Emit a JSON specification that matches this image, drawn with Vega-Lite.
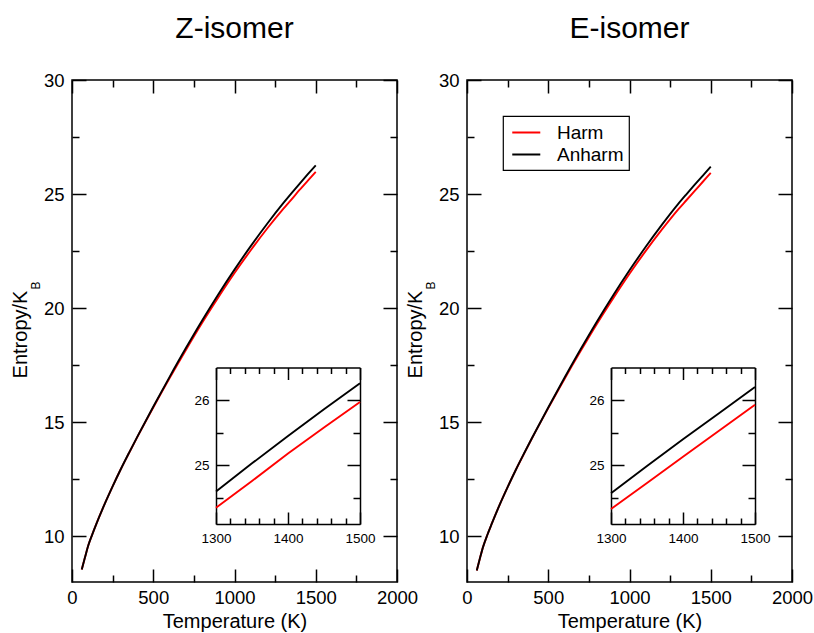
{
  "$schema": "https://vega.github.io/schema/vega-lite/v6.json",
  "padding": {"left": 9, "top": 13, "right": 0, "bottom": 0},
  "datasets": {
    "z": [
      {"series":"Harm","T":60,"S":8.55},{"series":"Harm","T":80,"S":9.08},{"series":"Harm","T":100,"S":9.6},{"series":"Harm","T":125,"S":10.09},{"series":"Harm","T":150,"S":10.55},{"series":"Harm","T":200,"S":11.4},{"series":"Harm","T":250,"S":12.19},{"series":"Harm","T":300,"S":12.94},{"series":"Harm","T":350,"S":13.64},{"series":"Harm","T":400,"S":14.33},{"series":"Harm","T":500,"S":15.65},{"series":"Harm","T":600,"S":16.93},{"series":"Harm","T":700,"S":18.16},{"series":"Harm","T":800,"S":19.35},{"series":"Harm","T":900,"S":20.47},{"series":"Harm","T":1000,"S":21.54},{"series":"Harm","T":1100,"S":22.54},{"series":"Harm","T":1200,"S":23.48},{"series":"Harm","T":1300,"S":24.35},{"series":"Harm","T":1350,"S":24.76},{"series":"Harm","T":1400,"S":25.18},{"series":"Harm","T":1450,"S":25.58},{"series":"Harm","T":1500,"S":25.97},
      {"series":"Anharm","T":60,"S":8.55},{"series":"Anharm","T":80,"S":9.08},{"series":"Anharm","T":100,"S":9.6},{"series":"Anharm","T":125,"S":10.09},{"series":"Anharm","T":150,"S":10.55},{"series":"Anharm","T":200,"S":11.4},{"series":"Anharm","T":250,"S":12.19},{"series":"Anharm","T":300,"S":12.94},{"series":"Anharm","T":350,"S":13.65},{"series":"Anharm","T":400,"S":14.34},{"series":"Anharm","T":500,"S":15.68},{"series":"Anharm","T":600,"S":16.98},{"series":"Anharm","T":700,"S":18.24},{"series":"Anharm","T":800,"S":19.45},{"series":"Anharm","T":900,"S":20.6},{"series":"Anharm","T":1000,"S":21.69},{"series":"Anharm","T":1100,"S":22.72},{"series":"Anharm","T":1200,"S":23.69},{"series":"Anharm","T":1300,"S":24.6},{"series":"Anharm","T":1350,"S":25.03},{"series":"Anharm","T":1400,"S":25.45},{"series":"Anharm","T":1450,"S":25.86},{"series":"Anharm","T":1500,"S":26.26}
    ],
    "e": [
      {"series":"Harm","T":60,"S":8.5},{"series":"Harm","T":80,"S":9.05},{"series":"Harm","T":100,"S":9.56},{"series":"Harm","T":125,"S":10.06},{"series":"Harm","T":150,"S":10.51},{"series":"Harm","T":200,"S":11.37},{"series":"Harm","T":250,"S":12.16},{"series":"Harm","T":300,"S":12.91},{"series":"Harm","T":350,"S":13.61},{"series":"Harm","T":400,"S":14.3},{"series":"Harm","T":500,"S":15.62},{"series":"Harm","T":600,"S":16.9},{"series":"Harm","T":700,"S":18.13},{"series":"Harm","T":800,"S":19.32},{"series":"Harm","T":900,"S":20.44},{"series":"Harm","T":1000,"S":21.51},{"series":"Harm","T":1100,"S":22.51},{"series":"Harm","T":1200,"S":23.45},{"series":"Harm","T":1300,"S":24.33},{"series":"Harm","T":1350,"S":24.73},{"series":"Harm","T":1400,"S":25.13},{"series":"Harm","T":1450,"S":25.53},{"series":"Harm","T":1500,"S":25.93},
      {"series":"Anharm","T":60,"S":8.5},{"series":"Anharm","T":80,"S":9.05},{"series":"Anharm","T":100,"S":9.56},{"series":"Anharm","T":125,"S":10.06},{"series":"Anharm","T":150,"S":10.51},{"series":"Anharm","T":200,"S":11.37},{"series":"Anharm","T":250,"S":12.16},{"series":"Anharm","T":300,"S":12.91},{"series":"Anharm","T":350,"S":13.62},{"series":"Anharm","T":400,"S":14.31},{"series":"Anharm","T":500,"S":15.65},{"series":"Anharm","T":600,"S":16.95},{"series":"Anharm","T":700,"S":18.21},{"series":"Anharm","T":800,"S":19.42},{"series":"Anharm","T":900,"S":20.57},{"series":"Anharm","T":1000,"S":21.66},{"series":"Anharm","T":1100,"S":22.69},{"series":"Anharm","T":1200,"S":23.66},{"series":"Anharm","T":1300,"S":24.57},{"series":"Anharm","T":1350,"S":24.99},{"series":"Anharm","T":1400,"S":25.4},{"series":"Anharm","T":1450,"S":25.8},{"series":"Anharm","T":1500,"S":26.2}
    ]
  },
  "hconcat": [
    {
      "width": 325, "height": 502,
      "data": {"name": "z"},
      "title": {"text": "Z-isomer", "fontSize": 30, "font": "Liberation Sans", "fontWeight": "normal", "color": "black", "baseline": "alphabetic", "offset": 3, "anchor": "middle"},
      "layer": [
        {
          "mark": {"type": "line", "strokeWidth": 1.9, "interpolate": "monotone"},
          "encoding": {
            "x": {"field": "T", "type": "quantitative", "scale": {"domain": [0, 2000], "nice": false, "zero": false},
              "axis": {"orient": "bottom", "values": [0,250,500,750,1000,1250,1500,1750,2000], "format": "d",
                "labelExpr": "datum.value % 500 === 0 ? datum.label : ''",
                "tickSize": {"condition": {"test": "datum.value % 500 === 0", "value": -13}, "value": -7},
                "labelPadding": 19.5, "labelFontSize": 18.5, "labelFlush": false, "labelOverlap": false, "domain": false,
                "title": "Temperature (K)", "titleFontSize": 20, "titleBaseline": "alphabetic", "titleY": 45}},
            "y": {"field": "S", "type": "quantitative", "scale": {"domain": [8, 30], "nice": false, "zero": false},
              "axis": {"orient": "left", "values": [10,12.5,15,17.5,20,22.5,25,27.5,30], "format": "d",
                "labelExpr": "datum.value % 5 === 0 ? datum.label : ''",
                "tickSize": {"condition": {"test": "datum.value % 5 === 0", "value": -14}, "value": -7},
                "labelPadding": 22, "labelFontSize": 18.5, "labelFlush": false, "labelOverlap": false, "domain": false,
                "title": "Entropy/K", "titleFontSize": 20, "titleAngle": -90, "titleAlign": "center", "titleBaseline": "alphabetic", "titleX": -46, "titleY": 254}},
            "color": {"field": "series", "type": "nominal", "scale": {"domain": ["Harm", "Anharm"], "range": ["#ff0000", "#000000"]}, "legend": null}
          }
        },
        {
          "mark": {"type": "line", "strokeOpacity": 0},
          "encoding": {
            "x": {"field": "T", "type": "quantitative", "scale": {"domain": [0, 2000], "nice": false, "zero": false},
              "axis": {"orient": "top", "values": [0,250,500,750,1000,1250,1500,1750,2000], "labels": false, "domain": false, "title": null,
                "tickSize": {"condition": {"test": "datum.value % 500 === 0", "value": -13}, "value": -7}}},
            "y": {"field": "S", "type": "quantitative", "scale": {"domain": [8, 30], "nice": false, "zero": false},
              "axis": {"orient": "right", "values": [10,12.5,15,17.5,20,22.5,25,27.5,30], "labels": false, "domain": false, "title": null,
                "tickSize": {"condition": {"test": "datum.value % 5 === 0", "value": -14}, "value": -7}}}
          }
        },
        {
          "transform": [{"filter": "datum.T >= 1300"}],
          "mark": {"type": "line", "strokeWidth": 1.9},
          "encoding": {
            "x": {"field": "T", "type": "quantitative", "scale": {"domain": [1300, 1500], "range": [144, 288], "nice": false, "zero": false},
              "axis": {"orient": "bottom", "offset": -58, "values": [1300,1320,1340,1360,1380,1400,1420,1440,1460,1480,1500], "format": "d",
                "labelExpr": "datum.value % 100 === 0 ? datum.label : ''",
                "tickSize": {"condition": {"test": "datum.value % 100 === 0", "value": -12}, "value": -6},
                "labelPadding": 19, "labelFontSize": 13.5, "labelFlush": false, "labelOverlap": false, "domain": true, "title": null}},
            "y": {"field": "S", "type": "quantitative", "scale": {"domain": [24.1, 26.5], "range": [444, 287.5], "nice": false, "zero": false},
              "axis": {"orient": "left", "offset": -144, "values": [24.5, 25, 25.5, 26],
                "labelExpr": "(datum.value === 25 || datum.value === 26) ? ('' + datum.value) : ''",
                "tickSize": {"condition": {"test": "datum.value === 25 || datum.value === 26", "value": -13}, "value": -7},
                "labelPadding": 20, "labelFontSize": 13.5, "labelFlush": false, "labelOverlap": false, "labelBound": false, "domain": true, "title": null}},
            "color": {"field": "series", "type": "nominal", "scale": {"domain": ["Harm", "Anharm"], "range": ["#ff0000", "#000000"]}, "legend": null}
          }
        },
        {
          "transform": [{"filter": "datum.T >= 1300"}],
          "mark": {"type": "line", "strokeOpacity": 0},
          "encoding": {
            "x": {"field": "T", "type": "quantitative", "scale": {"domain": [1300, 1500], "range": [144, 288], "nice": false, "zero": false},
              "axis": {"orient": "top", "offset": -287.5, "values": [1300,1320,1340,1360,1380,1400,1420,1440,1460,1480,1500], "labels": false, "domain": true, "title": null,
                "tickSize": {"condition": {"test": "datum.value % 100 === 0", "value": -12}, "value": -6}}},
            "y": {"field": "S", "type": "quantitative", "scale": {"domain": [24.1, 26.5], "range": [444, 287.5], "nice": false, "zero": false},
              "axis": {"orient": "right", "offset": -37, "values": [24.5, 25, 25.5, 26], "labels": false, "domain": true, "title": null,
                "tickSize": {"condition": {"test": "datum.value === 25 || datum.value === 26", "value": -13}, "value": -7}}}
          }
        },
        {
          "mark": {"type": "line", "strokeOpacity": 0},
          "encoding": {
            "x": {"field": "T", "type": "quantitative", "scale": {"domain": [0, 2000], "nice": false, "zero": false}, "axis": null},
            "y": {"field": "S", "type": "quantitative", "scale": {"domain": [8, 30], "nice": false, "zero": false},
              "axis": {"orient": "left", "ticks": false, "labels": false, "domain": false,
                "title": "B", "titleFontSize": 12, "titleAngle": -90, "titleAlign": "center", "titleBaseline": "alphabetic", "titleX": -33, "titleY": 205}}
          }
        }
      ],
      "resolve": {"scale": {"x": "independent", "y": "independent"}, "axis": {"x": "independent", "y": "independent"}}
    },
    {
      "width": 325, "height": 502,
      "data": {"name": "e"},
      "title": {"text": "E-isomer", "fontSize": 30, "font": "Liberation Sans", "fontWeight": "normal", "color": "black", "baseline": "alphabetic", "offset": 3, "anchor": "middle"},
      "layer": [
        {
          "mark": {"type": "line", "strokeWidth": 1.9, "interpolate": "monotone"},
          "encoding": {
            "x": {"field": "T", "type": "quantitative", "scale": {"domain": [0, 2000], "nice": false, "zero": false},
              "axis": {"orient": "bottom", "values": [0,250,500,750,1000,1250,1500,1750,2000], "format": "d",
                "labelExpr": "datum.value % 500 === 0 ? datum.label : ''",
                "tickSize": {"condition": {"test": "datum.value % 500 === 0", "value": -13}, "value": -7},
                "labelPadding": 19.5, "labelFontSize": 18.5, "labelFlush": false, "labelOverlap": false, "domain": false,
                "title": "Temperature (K)", "titleFontSize": 20, "titleBaseline": "alphabetic", "titleY": 45}},
            "y": {"field": "S", "type": "quantitative", "scale": {"domain": [8, 30], "nice": false, "zero": false},
              "axis": {"orient": "left", "values": [10,12.5,15,17.5,20,22.5,25,27.5,30], "format": "d",
                "labelExpr": "datum.value % 5 === 0 ? datum.label : ''",
                "tickSize": {"condition": {"test": "datum.value % 5 === 0", "value": -14}, "value": -7},
                "labelPadding": 22, "labelFontSize": 18.5, "labelFlush": false, "labelOverlap": false, "domain": false,
                "title": "Entropy/K", "titleFontSize": 20, "titleAngle": -90, "titleAlign": "center", "titleBaseline": "alphabetic", "titleX": -46, "titleY": 254}},
            "color": {"field": "series", "type": "nominal", "scale": {"domain": ["Harm", "Anharm"], "range": ["#ff0000", "#000000"]},
              "legend": {"title": null, "orient": "top-left", "offset": 36, "symbolType": "M-0.69,0H1.98", "symbolSize": 441, "symbolStrokeWidth": 2,
                "labelFontSize": 19, "labelFont": "Liberation Sans", "labelColor": "black", "labelOffset": 26,
                "strokeColor": "black", "fillColor": "white", "padding": 5, "rowPadding": -2}}
          }
        },
        {
          "mark": {"type": "line", "strokeOpacity": 0},
          "encoding": {
            "x": {"field": "T", "type": "quantitative", "scale": {"domain": [0, 2000], "nice": false, "zero": false},
              "axis": {"orient": "top", "values": [0,250,500,750,1000,1250,1500,1750,2000], "labels": false, "domain": false, "title": null,
                "tickSize": {"condition": {"test": "datum.value % 500 === 0", "value": -13}, "value": -7}}},
            "y": {"field": "S", "type": "quantitative", "scale": {"domain": [8, 30], "nice": false, "zero": false},
              "axis": {"orient": "right", "values": [10,12.5,15,17.5,20,22.5,25,27.5,30], "labels": false, "domain": false, "title": null,
                "tickSize": {"condition": {"test": "datum.value % 5 === 0", "value": -14}, "value": -7}}}
          }
        },
        {
          "transform": [{"filter": "datum.T >= 1300"}],
          "mark": {"type": "line", "strokeWidth": 1.9},
          "encoding": {
            "x": {"field": "T", "type": "quantitative", "scale": {"domain": [1300, 1500], "range": [144, 288], "nice": false, "zero": false},
              "axis": {"orient": "bottom", "offset": -58, "values": [1300,1320,1340,1360,1380,1400,1420,1440,1460,1480,1500], "format": "d",
                "labelExpr": "datum.value % 100 === 0 ? datum.label : ''",
                "tickSize": {"condition": {"test": "datum.value % 100 === 0", "value": -12}, "value": -6},
                "labelPadding": 19, "labelFontSize": 13.5, "labelFlush": false, "labelOverlap": false, "domain": true, "title": null}},
            "y": {"field": "S", "type": "quantitative", "scale": {"domain": [24.1, 26.5], "range": [444, 287.5], "nice": false, "zero": false},
              "axis": {"orient": "left", "offset": -144, "values": [24.5, 25, 25.5, 26],
                "labelExpr": "(datum.value === 25 || datum.value === 26) ? ('' + datum.value) : ''",
                "tickSize": {"condition": {"test": "datum.value === 25 || datum.value === 26", "value": -13}, "value": -7},
                "labelPadding": 20, "labelFontSize": 13.5, "labelFlush": false, "labelOverlap": false, "labelBound": false, "domain": true, "title": null}},
            "color": {"field": "series", "type": "nominal", "scale": {"domain": ["Harm", "Anharm"], "range": ["#ff0000", "#000000"]}, "legend": null}
          }
        },
        {
          "transform": [{"filter": "datum.T >= 1300"}],
          "mark": {"type": "line", "strokeOpacity": 0},
          "encoding": {
            "x": {"field": "T", "type": "quantitative", "scale": {"domain": [1300, 1500], "range": [144, 288], "nice": false, "zero": false},
              "axis": {"orient": "top", "offset": -287.5, "values": [1300,1320,1340,1360,1380,1400,1420,1440,1460,1480,1500], "labels": false, "domain": true, "title": null,
                "tickSize": {"condition": {"test": "datum.value % 100 === 0", "value": -12}, "value": -6}}},
            "y": {"field": "S", "type": "quantitative", "scale": {"domain": [24.1, 26.5], "range": [444, 287.5], "nice": false, "zero": false},
              "axis": {"orient": "right", "offset": -37, "values": [24.5, 25, 25.5, 26], "labels": false, "domain": true, "title": null,
                "tickSize": {"condition": {"test": "datum.value === 25 || datum.value === 26", "value": -13}, "value": -7}}}
          }
        },
        {
          "mark": {"type": "line", "strokeOpacity": 0},
          "encoding": {
            "x": {"field": "T", "type": "quantitative", "scale": {"domain": [0, 2000], "nice": false, "zero": false}, "axis": null},
            "y": {"field": "S", "type": "quantitative", "scale": {"domain": [8, 30], "nice": false, "zero": false},
              "axis": {"orient": "left", "ticks": false, "labels": false, "domain": false,
                "title": "B", "titleFontSize": 12, "titleAngle": -90, "titleAlign": "center", "titleBaseline": "alphabetic", "titleX": -33, "titleY": 205}}
          }
        }
      ],
      "resolve": {"scale": {"x": "independent", "y": "independent"}, "axis": {"x": "independent", "y": "independent"}}
    }
  ],
  "spacing": 70,
  "bounds": "flush",
  "resolve": {"scale": {"color": "independent"}, "legend": {"color": "independent"}},
  "config": {
    "background": "white",
    "view": {"stroke": "black", "strokeWidth": 1.5},
    "axis": {"grid": false, "tickColor": "black", "tickWidth": 1.5, "domainColor": "black", "domainWidth": 1.5,
      "labelColor": "black", "labelFont": "Liberation Sans", "titleFont": "Liberation Sans", "titleColor": "black", "titleFontWeight": "normal"},
    "legend": {"strokeWidth": 1.2}
  }
}
